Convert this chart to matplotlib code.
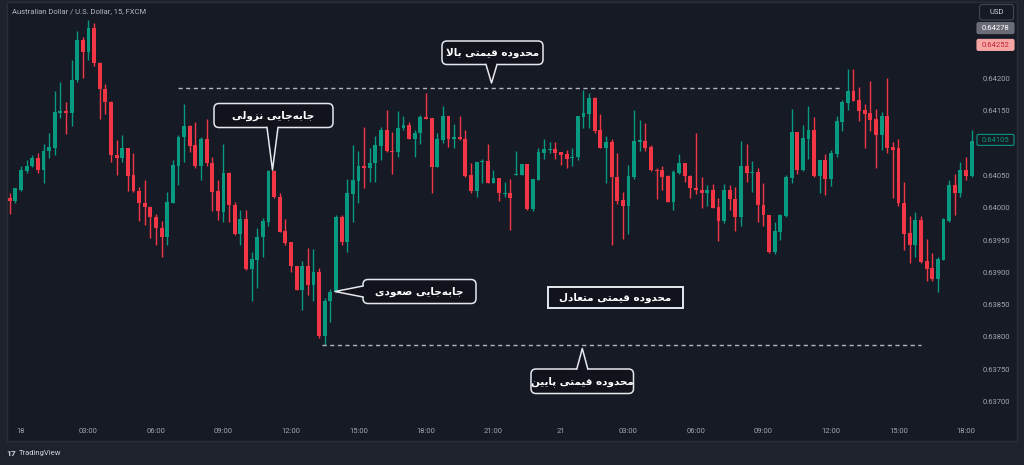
import matplotlib
matplotlib.use('Agg')
import matplotlib.pyplot as plt
from matplotlib import font_manager
from matplotlib.ft2font import FT2Font
from matplotlib.patches import FancyBboxPatch, Polygon, Rectangle
import numpy as np

# AUD/USD 15 min candles, first bar = 17th 23:30
opens = [0.64015, 0.64011, 0.64028, 0.64057, 0.64064, 0.64077, 0.64059, 0.64088, 0.64093, 0.64147, 0.64149, 0.64147,
         0.64197, 0.64259, 0.64241, 0.64278, 0.64224, 0.64183, 0.64164, 0.64082, 0.64077, 0.64093, 0.64050, 0.64026,
         0.64008, 0.64001, 0.63986, 0.63969, 0.63954, 0.64008, 0.64064, 0.64109, 0.64127, 0.64097, 0.64064, 0.64106,
         0.64069, 0.64026, 0.63994, 0.64053, 0.64004, 0.63959, 0.63982, 0.63905, 0.63919, 0.63954, 0.63978, 0.64057,
         0.64017, 0.63964, 0.63947, 0.63910, 0.63873, 0.63909, 0.63880, 0.63900, 0.63801, 0.63855, 0.63870, 0.63986,
         0.63947, 0.64021, 0.64041, 0.64064, 0.64062, 0.64069, 0.64096, 0.64121, 0.64088, 0.64086, 0.64124, 0.64128,
         0.64106, 0.64116, 0.64140, 0.64139, 0.64063, 0.64105, 0.64142, 0.64106, 0.64110, 0.64106, 0.64050, 0.64026,
         0.64070, 0.64072, 0.64039, 0.64046, 0.64021, 0.64022, 0.64050, 0.64050, 0.64067, 0.63998, 0.64043, 0.64085,
         0.64089, 0.64091, 0.64086, 0.64083, 0.64077, 0.64078, 0.64140, 0.64145, 0.64170, 0.64121, 0.64093, 0.64102,
         0.64048, 0.64012, 0.64003, 0.64048, 0.64102, 0.64103, 0.64094, 0.64059, 0.64058, 0.64049, 0.64009, 0.64054,
         0.64069, 0.64049, 0.64031, 0.64028, 0.64023, 0.64028, 0.64001, 0.63980, 0.64027, 0.64013, 0.63985, 0.64065,
         0.64054, 0.64056, 0.64004, 0.63989, 0.63931, 0.63963, 0.63987, 0.64046, 0.64117, 0.64058, 0.64107, 0.64120,
         0.64049, 0.64074, 0.64044, 0.64083, 0.64133, 0.64162, 0.64181, 0.64166, 0.64151, 0.64146, 0.64137, 0.64112,
         0.64142, 0.64094, 0.64092, 0.64008, 0.63961, 0.63942, 0.63981, 0.63917, 0.63906, 0.63890, 0.63919, 0.63980,
         0.64035, 0.64023, 0.64059, 0.64049]
highs = [0.64023, 0.64031, 0.64064, 0.64074, 0.64082, 0.64085, 0.64099, 0.64116, 0.64181, 0.64194, 0.64163, 0.64229,
         0.64274, 0.64264, 0.64290, 0.64286, 0.64226, 0.64192, 0.64165, 0.64105, 0.64113, 0.64093, 0.64084, 0.64032,
         0.64043, 0.64003, 0.63990, 0.63979, 0.64025, 0.64074, 0.64112, 0.64161, 0.64128, 0.64133, 0.64110, 0.64138,
         0.64079, 0.64043, 0.64098, 0.64056, 0.64009, 0.63996, 0.63996, 0.63932, 0.63968, 0.63984, 0.64058, 0.64058,
         0.64022, 0.63982, 0.63947, 0.63910, 0.63917, 0.63937, 0.63936, 0.63906, 0.63860, 0.63874, 0.63989, 0.63989,
         0.64044, 0.64097, 0.64088, 0.64125, 0.64092, 0.64111, 0.64125, 0.64152, 0.64117, 0.64149, 0.64142, 0.64132,
         0.64120, 0.64143, 0.64178, 0.64139, 0.64115, 0.64157, 0.64142, 0.64130, 0.64142, 0.64120, 0.64069, 0.64071,
         0.64075, 0.64098, 0.64059, 0.64046, 0.64040, 0.64044, 0.64088, 0.64067, 0.64067, 0.64044, 0.64092, 0.64107,
         0.64102, 0.64101, 0.64086, 0.64089, 0.64092, 0.64142, 0.64182, 0.64177, 0.64171, 0.64145, 0.64111, 0.64107,
         0.64084, 0.64025, 0.64066, 0.64152, 0.64135, 0.64131, 0.64097, 0.64061, 0.64064, 0.64051, 0.64058, 0.64083,
         0.64069, 0.64051, 0.64116, 0.64047, 0.64035, 0.64037, 0.64015, 0.64037, 0.64035, 0.64032, 0.64103, 0.64098,
         0.64073, 0.64061, 0.64039, 0.63989, 0.63978, 0.63991, 0.64051, 0.64153, 0.64117, 0.64128, 0.64157, 0.64140,
         0.64074, 0.64083, 0.64089, 0.64142, 0.64167, 0.64214, 0.64214, 0.64187, 0.64160, 0.64196, 0.64153, 0.64148,
         0.64200, 0.64102, 0.64107, 0.64040, 0.63987, 0.63993, 0.63987, 0.63951, 0.63930, 0.63924, 0.63984, 0.64043,
         0.64052, 0.64071, 0.64079, 0.64121]
lows = [0.63990, 0.64008, 0.64026, 0.64053, 0.64063, 0.64054, 0.64039, 0.64077, 0.64081, 0.64139, 0.64114, 0.64126,
        0.64194, 0.64201, 0.64228, 0.64219, 0.64138, 0.64145, 0.64071, 0.64051, 0.64071, 0.64026, 0.64025, 0.63980,
        0.63973, 0.63953, 0.63942, 0.63923, 0.63942, 0.64007, 0.64035, 0.64071, 0.64086, 0.64061, 0.64043, 0.64064,
        0.63995, 0.63981, 0.63978, 0.63978, 0.63958, 0.63943, 0.63904, 0.63856, 0.63876, 0.63924, 0.63971, 0.64015,
        0.63963, 0.63942, 0.63901, 0.63872, 0.63842, 0.63865, 0.63855, 0.63798, 0.63788, 0.63823, 0.63869, 0.63942,
        0.63932, 0.63978, 0.64007, 0.64030, 0.64040, 0.64040, 0.64074, 0.64086, 0.64052, 0.64078, 0.64120, 0.64106,
        0.64078, 0.64099, 0.64138, 0.64022, 0.64063, 0.64100, 0.64094, 0.64093, 0.64105, 0.64048, 0.64022, 0.64016,
        0.64039, 0.64038, 0.64038, 0.64011, 0.64016, 0.63966, 0.64050, 0.64050, 0.63997, 0.63995, 0.64043, 0.64076,
        0.64084, 0.64076, 0.64066, 0.64062, 0.64064, 0.64074, 0.64123, 0.64123, 0.64115, 0.64093, 0.64039, 0.63943,
        0.64006, 0.63951, 0.63959, 0.64044, 0.64088, 0.64088, 0.64057, 0.64013, 0.64028, 0.64009, 0.63997, 0.64052,
        0.64040, 0.64015, 0.64021, 0.63999, 0.64003, 0.63999, 0.63949, 0.63976, 0.63996, 0.63964, 0.63971, 0.64040,
        0.64025, 0.63978, 0.63972, 0.63930, 0.63929, 0.63950, 0.63986, 0.64039, 0.64052, 0.64057, 0.64076, 0.64048,
        0.64022, 0.64020, 0.64034, 0.64078, 0.64119, 0.64152, 0.64165, 0.64134, 0.64093, 0.64119, 0.64061, 0.64089,
        0.64085, 0.64015, 0.64002, 0.63935, 0.63914, 0.63924, 0.63914, 0.63887, 0.63886, 0.63869, 0.63919, 0.63978,
        0.63989, 0.64017, 0.64043, 0.64048]
closes = [0.64011, 0.64030, 0.64058, 0.64065, 0.64077, 0.64059, 0.64088, 0.64094, 0.64148, 0.64149, 0.64146, 0.64197,
          0.64259, 0.64241, 0.64278, 0.64224, 0.64183, 0.64164, 0.64082, 0.64077, 0.64093, 0.64049, 0.64026, 0.64008,
          0.64001, 0.63985, 0.63968, 0.63954, 0.64009, 0.64066, 0.64110, 0.64127, 0.64096, 0.64064, 0.64106, 0.64069,
          0.64025, 0.63995, 0.64053, 0.64004, 0.63959, 0.63982, 0.63905, 0.63920, 0.63955, 0.63979, 0.64057, 0.64016,
          0.63963, 0.63946, 0.63909, 0.63873, 0.63910, 0.63880, 0.63900, 0.63801, 0.63856, 0.63870, 0.63986, 0.63947,
          0.64022, 0.64043, 0.64064, 0.64062, 0.64069, 0.64097, 0.64121, 0.64088, 0.64086, 0.64124, 0.64128, 0.64106,
          0.64116, 0.64140, 0.64138, 0.64063, 0.64106, 0.64142, 0.64106, 0.64110, 0.64106, 0.64049, 0.64026, 0.64070,
          0.64072, 0.64039, 0.64046, 0.64022, 0.64023, 0.64015, 0.64052, 0.64067, 0.63998, 0.64044, 0.64086, 0.64091,
          0.64091, 0.64085, 0.64081, 0.64076, 0.64079, 0.64142, 0.64146, 0.64170, 0.64119, 0.64093, 0.64102, 0.64048,
          0.64011, 0.64003, 0.64049, 0.64103, 0.64105, 0.64093, 0.64058, 0.64057, 0.64048, 0.64009, 0.64055, 0.64069,
          0.64049, 0.64030, 0.64028, 0.64023, 0.64028, 0.64000, 0.63980, 0.64027, 0.64013, 0.63985, 0.64065, 0.64054,
          0.64056, 0.64004, 0.63988, 0.63931, 0.63964, 0.63989, 0.64047, 0.64117, 0.64058, 0.64108, 0.64120, 0.64049,
          0.64074, 0.64044, 0.64084, 0.64134, 0.64164, 0.64181, 0.64165, 0.64150, 0.64145, 0.64135, 0.64112, 0.64142,
          0.64093, 0.64090, 0.64007, 0.63959, 0.63942, 0.63981, 0.63916, 0.63905, 0.63890, 0.63920, 0.63982, 0.64035,
          0.64023, 0.64059, 0.64049, 0.64103]

time_pos = [2, 14, 26, 38, 50, 62, 74, 86, 98, 110, 122, 134, 146, 158, 170]
time_labels = ['18', '03:00', '06:00', '09:00', '12:00', '15:00', '18:00', '21:00',
               '21', '03:00', '06:00', '09:00', '12:00', '15:00', '18:00']
price_ticks = [0.637, 0.6375, 0.638, 0.6385, 0.639, 0.6395, 0.640, 0.6405, 0.6415, 0.642]

upper_level, upper_from, upper_to = 0.64186, 30, 148
lower_level, lower_from, lower_to = 0.63788, 55.5, 162
last_price = 0.64105
high_mark = 0.64278
prev_mark = 0.64252

GREEN = '#089981'
RED = '#f23645'
PANEL = '#161a25'
OUTER = '#1e222d'
AXTXT = '#a3a6af'
BOX_FC = '#10131b'
BOX_EC = '#e6e8ee'

# --- persian shaping (matplotlib has no bidi / joining) ---
FORMS = {
    'ا': ('\uFE8D', '\uFE8E', None, None),
    'ب': ('\uFE8F', '\uFE90', '\uFE91', '\uFE92'),
    'پ': ('\uFB56', '\uFB57', '\uFB58', '\uFB59'),
    'ت': ('\uFE95', '\uFE96', '\uFE97', '\uFE98'),
    'ج': ('\uFE9D', '\uFE9E', '\uFE9F', '\uFEA0'),
    'ح': ('\uFEA1', '\uFEA2', '\uFEA3', '\uFEA4'),
    'د': ('\uFEA9', '\uFEAA', None, None),
    'ز': ('\uFEAF', '\uFEB0', None, None),
    'ص': ('\uFEB9', '\uFEBA', '\uFEBB', '\uFEBC'),
    'ع': ('\uFEC9', '\uFECA', '\uFECB', '\uFECC'),
    'ق': ('\uFED5', '\uFED6', '\uFED7', '\uFED8'),
    'ل': ('\uFEDD', '\uFEDE', '\uFEDF', '\uFEE0'),
    'م': ('\uFEE1', '\uFEE2', '\uFEE3', '\uFEE4'),
    'ن': ('\uFEE5', '\uFEE6', '\uFEE7', '\uFEE8'),
    'ه': ('\uFEE9', '\uFEEA', '\uFEEB', '\uFEEC'),
    'و': ('\uFEED', '\uFEEE', None, None),
    'ی': ('\uFBFC', '\uFBFD', '\uFBFE', '\uFBFF'),
}
YEH_ALT = ('\uFEEF', '\uFEF0', '\uFEF3', '\uFEF4')
RIGHT_ONLY = set('ادزو')


def shape_fa(s, alt_yeh=False):
    s = s.replace('ي', 'ی').replace('ى', 'ی')
    out = []
    k = 0
    while k < len(s):
        ch = s[k]
        if ch not in FORMS:
            if ch != '\u200c':
                out.append(ch)
            k += 1
            continue
        prev = s[k - 1] if k > 0 else ''
        joins_prev = prev in FORMS and prev not in RIGHT_ONLY
        if ch == 'ل' and k + 1 < len(s) and s[k + 1] == 'ا':
            out.append('\uFEFC' if joins_prev else '\uFEFB')
            k += 2
            continue
        nxt = s[k + 1] if k + 1 < len(s) else ''
        joins_next = ch not in RIGHT_ONLY and nxt in FORMS
        forms = YEH_ALT if (alt_yeh and ch == 'ی') else FORMS[ch]
        if joins_prev and joins_next:
            g = forms[3]
        elif joins_prev:
            g = forms[1]
        elif joins_next:
            g = forms[2]
        else:
            g = forms[0]
        out.append(g)
        k += 1
    return ''.join(reversed(out))


labels_fa = ['محدوده قیمتی بالا', 'جابه\u200cجایی نزولی', 'جابه\u200cجایی صعودی',
             'محدوده قیمتی متعادل', 'محدوده قیمتی پایین']


def font_ok(weight, alt):
    path = font_manager.findfont(font_manager.FontProperties(family='DejaVu Sans', weight=weight))
    cmap = FT2Font(path).get_charmap()
    return all(ord(ch) in cmap for t in labels_fa for ch in shape_fa(t, alt) if ch != ' ')


FA_WEIGHT, ALT = 'normal', False
for w, a in [('bold', False), ('bold', True), ('normal', False), ('normal', True)]:
    if font_ok(w, a):
        FA_WEIGHT, ALT = w, a
        break

UI = ['Roboto', 'DejaVu Sans']

fig = plt.figure(figsize=(10.24, 4.65), dpi=100)
fig.patch.set_facecolor(OUTER)

# background panel (pixel coords)
bg = fig.add_axes([0, 0, 1, 1], zorder=0)
bg.set_xlim(0, 1024)
bg.set_ylim(465, 0)
bg.axis('off')
bg.add_patch(Rectangle((7, 2), 1010, 439, fc=PANEL, ec='#2a2e39', lw=1))

# price chart
ax = fig.add_axes([7 / 1024, 45 / 465, 969 / 1024, 420 / 465], zorder=1)
ax.patch.set_alpha(0)
ax.set_xlim(-0.489, 171.78)
ax.set_ylim(0.636714, 0.643215)
for sp in ax.spines.values():
    sp.set_visible(False)

o, h, l, c = (np.array(v) for v in (opens, highs, lows, closes))
idx = np.arange(len(o))
cols = np.where(c >= o, GREEN, RED)
ax.vlines(idx, l, h, colors=cols, linewidth=1)
ax.bar(idx, np.maximum(np.abs(c - o), 0.000012), bottom=np.minimum(o, c),
       width=0.68, color=cols, linewidth=0)

ax.hlines(upper_level, upper_from, upper_to, colors='#b2b5be', linewidth=1, linestyles=(0, (3, 2.5)))
ax.hlines(lower_level, lower_from, lower_to, colors='#b2b5be', linewidth=1, linestyles=(0, (3, 2.5)))

ax.set_xticks(time_pos, time_labels)
ax.yaxis.tick_right()
ax.set_yticks(price_ticks, [f'{p:.5f}' for p in price_ticks])
ax.tick_params(axis='x', length=0, pad=5.5, labelsize=5.5, labelcolor=AXTXT)
ax.tick_params(axis='y', length=0, pad=5, labelsize=5.5, labelcolor=AXTXT)
for t in ax.get_xticklabels() + ax.get_yticklabels():
    t.set_family(UI)

# overlay for labels / callouts (pixel coords)
ov = fig.add_axes([0, 0, 1, 1], zorder=2)
ov.set_xlim(0, 1024)
ov.set_ylim(465, 0)
ov.axis('off')
ov.patch.set_alpha(0)


def price_y(p):
    disp = ax.transData.transform((0, p))
    return ov.transData.inverted().transform(disp)[1]


ov.text(12, 11, 'Australian Dollar / U.S. Dollar, 15, FXCM', fontsize=5.5, color='#b2b5be',
        family=UI, va='center', ha='left')

# right scale boxes
ov.add_patch(FancyBboxPatch((979.5, 4.5), 34, 15.5, boxstyle='round,pad=0,rounding_size=2.5',
                            fc=PANEL, ec='#434651', lw=0.8))
ov.text(996.5, 12.3, 'USD', fontsize=5.5, color='#d1d4dc', family=UI, ha='center', va='center')


def price_box(p, fc, ec, tc):
    y = price_y(p)
    ov.add_patch(FancyBboxPatch((977, y - 5.5), 37, 11, boxstyle='round,pad=0,rounding_size=1.5',
                                fc=fc, ec=ec, lw=0.8))
    ov.text(995.5, y, f'{p:.5f}', fontsize=5.5, color=tc, family=UI, ha='center', va='center')


price_box(high_mark, '#6a6d78', '#6a6d78', 'white')
price_box(prev_mark, '#f7a6a6', '#f7a6a6', '#c2202f')
price_box(last_price, PANEL, GREEN, GREEN)


def callout(box, text, tip, side, half=5.5, rect=False):
    x0, y0, x1, y1 = box
    if rect:
        ov.add_patch(Rectangle((x0, y0), x1 - x0, y1 - y0, fc=BOX_FC, ec=BOX_EC, lw=1.4, zorder=3))
    else:
        ov.add_patch(FancyBboxPatch((x0, y0), x1 - x0, y1 - y0, boxstyle='round,pad=0,rounding_size=5',
                                    fc=BOX_FC, ec=BOX_EC, lw=1.1, zorder=3))
    if tip is not None:
        tx, ty = tip
        if side == 'bottom':
            a, b = (tx - half, y1), (tx + half, y1)
            inner = [(tx + half, y1 - 2), (tx - half, y1 - 2)]
        elif side == 'top':
            a, b = (tx - half, y0), (tx + half, y0)
            inner = [(tx + half, y0 + 2), (tx - half, y0 + 2)]
        else:
            a, b = (x0, ty - half), (x0, ty + half)
            inner = [(x0 + 2, ty + half), (x0 + 2, ty - half)]
        ov.add_patch(Polygon([a, tip, b] + inner, closed=True, fc=BOX_FC, ec='none', zorder=4))
        ov.plot([a[0], tx, b[0]], [a[1], ty, b[1]], color=BOX_EC, lw=1.1, zorder=5)
    ov.text((x0 + x1) / 2, (y0 + y1) / 2 + 0.5, shape_fa(text, ALT), fontsize=7.5, color='white',
            family=['DejaVu Sans'], weight=FA_WEIGHT, ha='center', va='center', zorder=6)


callout((442, 41, 543, 64.5), labels_fa[0], (491.5, 83), 'bottom')
callout((214, 103.5, 333, 127.5), labels_fa[1], (272.5, 170), 'bottom')
callout((363, 279.5, 476, 303.5), labels_fa[2], (335, 291.5), 'left')
callout((548, 287, 683, 307.5), labels_fa[3], None, None, rect=True)
callout((531, 369, 633.5, 393.5), labels_fa[4], (582.3, 348.5), 'top')

# TradingView mark
ov.text(6.5, 453, '17', fontsize=6, color='#d1d4dc', family=UI, weight='bold', ha='left', va='center')
ov.text(19, 453, 'TradingView', fontsize=5.5, color='#d1d4dc', family=UI, ha='left', va='center')

fig.savefig('out.png', dpi=100, facecolor=fig.get_facecolor())
